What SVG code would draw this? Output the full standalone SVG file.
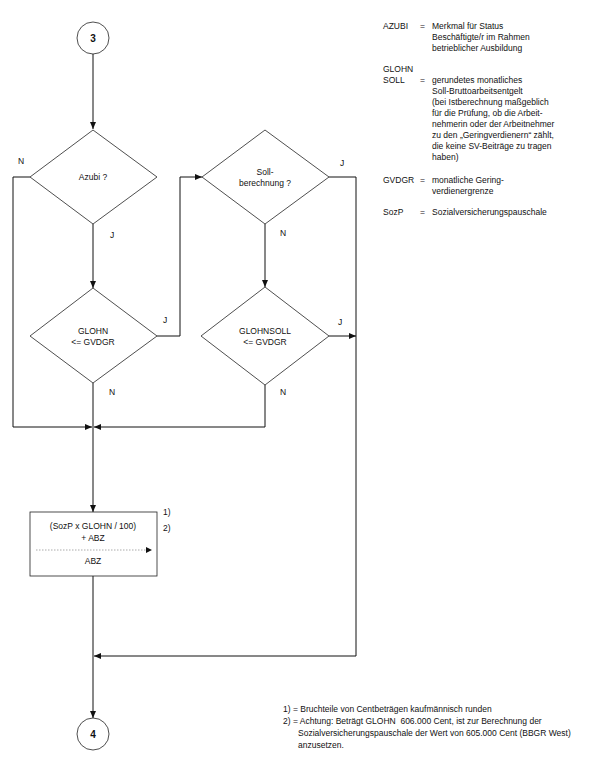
<svg xmlns="http://www.w3.org/2000/svg" width="591" height="762" viewBox="0 0 591 762">
<style>
.s{fill:none;stroke:#111;stroke-width:1}
.n{fill:#fff;stroke:#222;stroke-width:0.8}
.t{font-family:"Liberation Sans",Arial,sans-serif;font-size:8.5px;fill:#111}
.c{text-anchor:middle}
.b{font-weight:bold;font-size:10px}
.dot{fill:none;stroke:#aaa;stroke-width:1;stroke-dasharray:1.5,1.5}
</style>
<defs>
<marker id="a" markerUnits="userSpaceOnUse" markerWidth="8" markerHeight="7" refX="7" refY="3.5" orient="auto">
<path d="M0,0.5 L7,3.5 L0,6.5 z" fill="#111"/>
</marker>
</defs>
<rect width="591" height="762" fill="#fff"/>
<g id="connectors">
<path class="s" d="M93,54 V129" marker-end="url(#a)"/>
<path class="s" d="M30,177 H13 V427 H92" marker-end="url(#a)"/>
<path class="s" d="M93,224 V288" marker-end="url(#a)"/>
<path class="s" d="M157,336 H180 V177 H202" marker-end="url(#a)"/>
<path class="s" d="M93,383 V512" marker-end="url(#a)"/>
<path class="s" d="M329,177 H356 V656 H94" marker-end="url(#a)"/>
<path class="s" d="M265,224 V287" marker-end="url(#a)"/>
<path class="s" d="M329,336 H356" marker-end="url(#a)"/>
<path class="s" d="M265,385 V427 H94" marker-end="url(#a)"/>
<path class="s" d="M93,576 V718" marker-end="url(#a)"/>
</g>
<g id="start">
<circle class="n" cx="93" cy="38" r="16"/>
<text class="t c b" x="93" y="42">3</text>
</g>
<g id="azubi">
<polygon class="n" points="93,130 157,177 93,224 30,177"/>
<text class="t c" x="93" y="180">Azubi ?</text>
<text class="t" x="18" y="164">N</text>
<text class="t" x="110" y="238">J</text>
</g>
<g id="soll">
<polygon class="n" points="265,130 329,177 265,224 202,177"/>
<text class="t c" x="265" y="175">Soll-</text>
<text class="t c" x="265" y="186">berechnung ?</text>
<text class="t" x="340" y="166">J</text>
<text class="t" x="280" y="236">N</text>
</g>
<g id="glohn">
<polygon class="n" points="93,288 157,336 93,383 30,336"/>
<text class="t c" x="93" y="334">GLOHN</text>
<text class="t c" x="93" y="345">&lt;= GVDGR</text>
<text class="t" x="163" y="323">J</text>
<text class="t" x="109" y="395">N</text>
</g>
<g id="glohnsoll">
<polygon class="n" points="265,287 329,336 265,385 201,336"/>
<text class="t c" x="265" y="334">GLOHNSOLL</text>
<text class="t c" x="265" y="345">&lt;= GVDGR</text>
<text class="t" x="338" y="325">J</text>
<text class="t" x="280" y="395">N</text>
</g>
<g id="calc">
<rect class="n" x="30" y="512" width="127" height="64"/>
<text class="t c" x="93" y="529">(SozP x GLOHN / 100)</text>
<text class="t c" x="93" y="541">+ ABZ</text>
<path class="dot" d="M36,550 H148"/>
<path d="M146,547 L152,550 L146,553 z" fill="#111"/>
<text class="t c" x="93" y="564">ABZ</text>
<text class="t" x="163" y="515">1)</text>
<text class="t" x="163" y="531">2)</text>
</g>
<g id="end">
<circle class="n" cx="93" cy="734" r="16"/>
<text class="t c b" x="93" y="738">4</text>
</g>
<g id="legend">
<text class="t" x="383" y="29">AZUBI</text>
<text class="t" x="420" y="29">=</text>
<text class="t" x="432" y="29">Merkmal für Status</text>
<text class="t" x="432" y="40">Beschäftigte/r im Rahmen</text>
<text class="t" x="432" y="51">betrieblicher Ausbildung</text>
<text class="t" x="383" y="72">GLOHN</text>
<text class="t" x="383" y="83">SOLL</text>
<text class="t" x="420" y="83">=</text>
<text class="t" x="432" y="83">gerundetes monatliches</text>
<text class="t" x="432" y="94">Soll-Bruttoarbeitsentgelt</text>
<text class="t" x="432" y="105">(bei Istberechnung maßgeblich</text>
<text class="t" x="432" y="116">für die Prüfung, ob die Arbeit-</text>
<text class="t" x="432" y="127">nehmerin oder der Arbeitnehmer</text>
<text class="t" x="432" y="138">zu den „Geringverdienern“ zählt,</text>
<text class="t" x="432" y="149">die keine SV-Beiträge zu tragen</text>
<text class="t" x="432" y="160">haben)</text>
<text class="t" x="383" y="183">GVDGR</text>
<text class="t" x="420" y="183">=</text>
<text class="t" x="432" y="183">monatliche Gering-</text>
<text class="t" x="432" y="194">verdienergrenze</text>
<text class="t" x="383" y="215">SozP</text>
<text class="t" x="420" y="215">=</text>
<text class="t" x="432" y="215">Sozialversicherungspauschale</text>
</g>
<g id="footnotes">
<text class="t" x="283" y="712">1) = Bruchteile von Centbeträgen kaufmännisch runden</text>
<text class="t" x="283" y="724" style="white-space:pre">2) = Achtung: Beträgt GLOHN  606.000 Cent, ist zur Berechnung der</text>
<text class="t" x="298" y="736">Sozialversicherungspauschale der Wert von 605.000 Cent (BBGR West)</text>
<text class="t" x="298" y="748">anzusetzen.</text>
</g>
</svg>
